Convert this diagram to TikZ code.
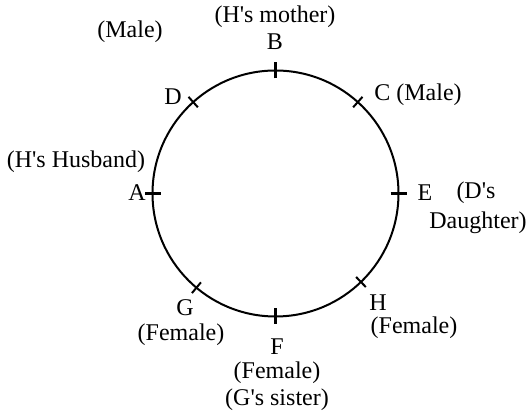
\documentclass[tikz,border=0pt]{standalone}
\usepackage{fontspec}
\setmainfont{Liberation Serif}
\usetikzlibrary{calc}

\newcommand{\apos}{\textquotesingle}

\begin{document}
\begin{tikzpicture}[
    x = 0.5pt, y = 0.5pt,
    font          = \fontsize{12}{14}\selectfont,
    lbl/.style    = {inner sep=0pt},
    tickmajor/.style = {line width=1.5pt},
    tickminor/.style = {line width=1pt},
  ]
  \useasboundingbox (0,0) rectangle (526,412);
  \coordinate (O) at (275.5,218.5);
  \draw[line width=1pt] (O) circle[radius=123];
  % seat marks on the table
  \foreach \ang in {90,180,0,270}
    \draw[tickmajor] ($(O)+(\ang:115)$) -- ($(O)+(\ang:131)$);
  \foreach \ang in {132,48,230,-46}
    \draw[tickminor] ($(O)+(\ang:116)$) -- ($(O)+(\ang:130)$);
  % people
  \node[lbl] (Bn)  at (275,370) {B};
  \node[lbl] (Bx)  at (275,395) {(H\apos s mother)};
  \node[lbl] (Dn)  at (173,315) {D};
  \node[lbl] (Dx)  at (130,380) {(Male)};
  \node[lbl, anchor=west] (Cn) at (374,317) {C (Male)};
  \node[lbl] (An)  at (137,219) {A};
  \node[lbl] (Ax)  at (76,250) {(H\apos s Husband)};
  \node[lbl] (En)  at (425,219) {E};
  \node[lbl] (Ex)  at (476,219) {(D\apos s};
  \node[lbl] (Ey)  at (478,189) {Daughter)};
  \node[lbl] (Gn)  at (185,104) {G};
  \node[lbl] (Gx)  at (181,77) {(Female)};
  \node[lbl] (Fn)  at (277,65) {F};
  \node[lbl] (Fx)  at (277,39) {(Female)};
  \node[lbl] (Fy)  at (277,12) {(G\apos s sister)};
  \node[lbl] (Hn)  at (378,109) {H};
  \node[lbl] (Hx)  at (414,84) {(Female)};
\end{tikzpicture}
\end{document}
